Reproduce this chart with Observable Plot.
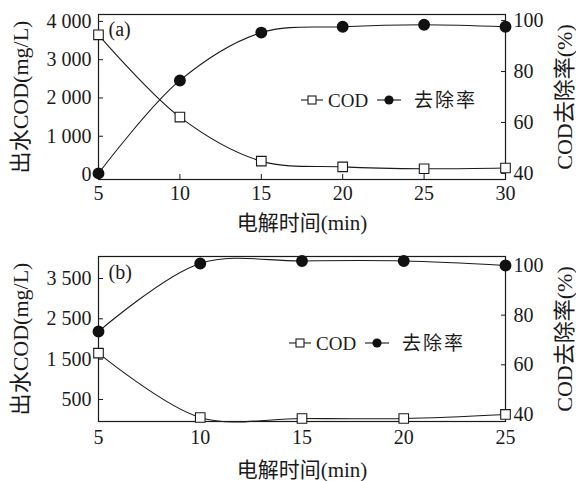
<!DOCTYPE html>
<html>
<head>
<meta charset="utf-8">
<script src="https://cdn.jsdelivr.net/npm/d3@7"></script>
<script src="https://cdn.jsdelivr.net/npm/@observablehq/plot@0.6"></script>
<style>
  html, body { margin: 0; padding: 0; background: #fff; }
  #chart { position: relative; width: 576px; height: 481px; background: #fff; }
  #chart svg { display: block; }
</style>
</head>
<body>
<div id="chart"></div>
<script>
// ---- data (panel a) ----
const minutesA = [5, 10, 15, 20, 25, 30];
const codA = [3650, 1500, 350, 200, 150, 170];
const rateA = [40, 76.5, 95.3, 97.6, 98.4, 97.6];
// ---- data (panel b) ----
const minutesB = [5, 10, 15, 20, 25];
const codB = [1650, 55, 30, 30, 130];
const rateB = [73.4, 100.8, 101.8, 101.8, 100];
// ---- tick labels ----
const xTicksA = [5, 10, 15, 20, 25, 30];
const xTicksB = [5, 10, 15, 20, 25];
const leftTicksA = [0, 1000, 2000, 3000, 4000];
const leftTicksB = [500, 1500, 2500, 3500];
const rightTicks = [40, 60, 80, 100];
// ---- texts ----
const xTitle = "电解时间(min)";
const leftTitle = "出水COD(mg/L)";
const rightTitle = "COD去除率(%)";
const legendLabels = ["COD", "去除率"];

const FONT = '"Liberation Serif", "Times New Roman", "Noto Sans CJK SC", serif';
const INK = "#1a1a1a";

function panel(cfg) {
  const {minutes, cod, rate, xTicks, leftTicks, xDomain, leftDomain, rightDomain,
         height, marginTop, marginBottom, tag, tagDy} = cfg;
  const toLeft = r => leftDomain[0] + (r - rightDomain[0]) * (leftDomain[1] - leftDomain[0]) / (rightDomain[1] - rightDomain[0]);
  const codData = minutes.map((m, i) => ({m, v: cod[i]}));
  const rateData = minutes.map((m, i) => ({m, v: toLeft(rate[i])}));
  const fmt = d => d3.format(",")(d).replace(/,/g, " ");
  return Plot.plot({
    width: 576, height, marginTop, marginBottom, marginLeft: 98, marginRight: 71,
    style: {fontFamily: FONT, fontSize: "20px", color: INK, background: "white", overflow: "visible"},
    x: {domain: xDomain},
    y: {domain: leftDomain},
    marks: [
      // inward ticks: positive tick length shifted back inside the frame
      Plot.axisX(xTicks, {anchor: "bottom", tickSize: 5, dy: -5, tickPadding: cfg.xPad, label: null, tickFormat: d => d, stroke: INK}),
      Plot.axisY(leftTicks, {anchor: "left", tickSize: 5, dx: 5, tickPadding: 7, label: null, tickFormat: fmt, stroke: INK}),
      Plot.axisY(rightTicks, {anchor: "right", y: toLeft, tickSize: 5, dx: -5, tickPadding: 8, label: null, tickFormat: d => d, stroke: INK}),
      Plot.frame({stroke: INK, strokeWidth: 1.2}),
      Plot.line(codData, {x: "m", y: "v", curve: "catmull-rom", stroke: INK, strokeWidth: 1.1}),
      Plot.line(rateData, {x: "m", y: "v", curve: "catmull-rom", stroke: INK, strokeWidth: 1.1}),
      Plot.dot(codData, {x: "m", y: "v", symbol: "square", r: 5.4, fill: "white", stroke: INK, strokeWidth: 1.1}),
      Plot.dot(rateData, {x: "m", y: "v", r: 5.2, fill: "#111", stroke: "#111"}),
      Plot.text([tag], {text: d => d, frameAnchor: "top-left", dx: 10, dy: tagDy, textAnchor: "start", lineAnchor: "middle", fill: INK}),
      Plot.text([xTitle], {text: d => d, frameAnchor: "bottom", dy: cfg.xTitleDy, lineAnchor: "middle", fontSize: 21, fill: INK}),
      Plot.text([leftTitle], {text: d => d, frameAnchor: "left", dx: -78, rotate: -90, textAnchor: "middle", lineAnchor: "middle", fontSize: 22, fill: INK}),
      Plot.text([rightTitle], {text: d => d, frameAnchor: "right", dx: 59, rotate: -90, textAnchor: "middle", lineAnchor: "middle", fontSize: 22, fill: INK})
    ]
  });
}

function addLegend(svg, x0, y) {
  const g = d3.select(svg).append("g")
    .attr("font-family", FONT).attr("font-size", 19).attr("fill", INK).attr("text-anchor", "start");
  // COD entry
  g.append("line").attr("x1", x0).attr("x2", x0 + 22).attr("y1", y).attr("y2", y).attr("stroke", INK).attr("stroke-width", 1.1);
  g.append("rect").attr("x", x0 + 11 - 4).attr("y", y - 4).attr("width", 8).attr("height", 8)
    .attr("fill", "white").attr("stroke", INK).attr("stroke-width", 1.1);
  g.append("text").attr("x", x0 + 27).attr("y", y).attr("dy", "0.35em").text(legendLabels[0]);
  // removal entry
  const x1 = x0 + 76;
  g.append("line").attr("x1", x1).attr("x2", x1 + 24).attr("y1", y).attr("y2", y).attr("stroke", INK).attr("stroke-width", 1.1);
  g.append("circle").attr("cx", x1 + 12).attr("cy", y).attr("r", 4.6).attr("fill", "#111");
  g.append("text").attr("x", x1 + 37).attr("y", y).attr("dy", "0.35em").attr("letter-spacing", "2px").text(legendLabels[1]);
}

const chart = document.getElementById("chart");

const svgA = panel({
  minutes: minutesA, cod: codA, rate: rateA, xTicks: xTicksA, leftTicks: leftTicksA,
  xDomain: [5, 30], leftDomain: [-130, 4180], rightDomain: [37.6, 102.4],
  height: 240, marginTop: 14, marginBottom: 61, tag: "(a)", tagDy: 15, xTitleDy: 44, xPad: 6
});
chart.appendChild(svgA);
addLegend(svgA, 301, 100);

const svgB = panel({
  minutes: minutesB, cod: codB, rate: rateB, xTicks: xTicksB, leftTicks: leftTicksB,
  xDomain: [5, 25], leftDomain: [-45, 4045], rightDomain: [37.2, 103.6],
  height: 241, marginTop: 16, marginBottom: 60, tag: "(b)", tagDy: 16, xTitleDy: 49, xPad: 8
});
chart.appendChild(svgB);
addLegend(svgB, 289, 103);
</script>
</body>
</html>
